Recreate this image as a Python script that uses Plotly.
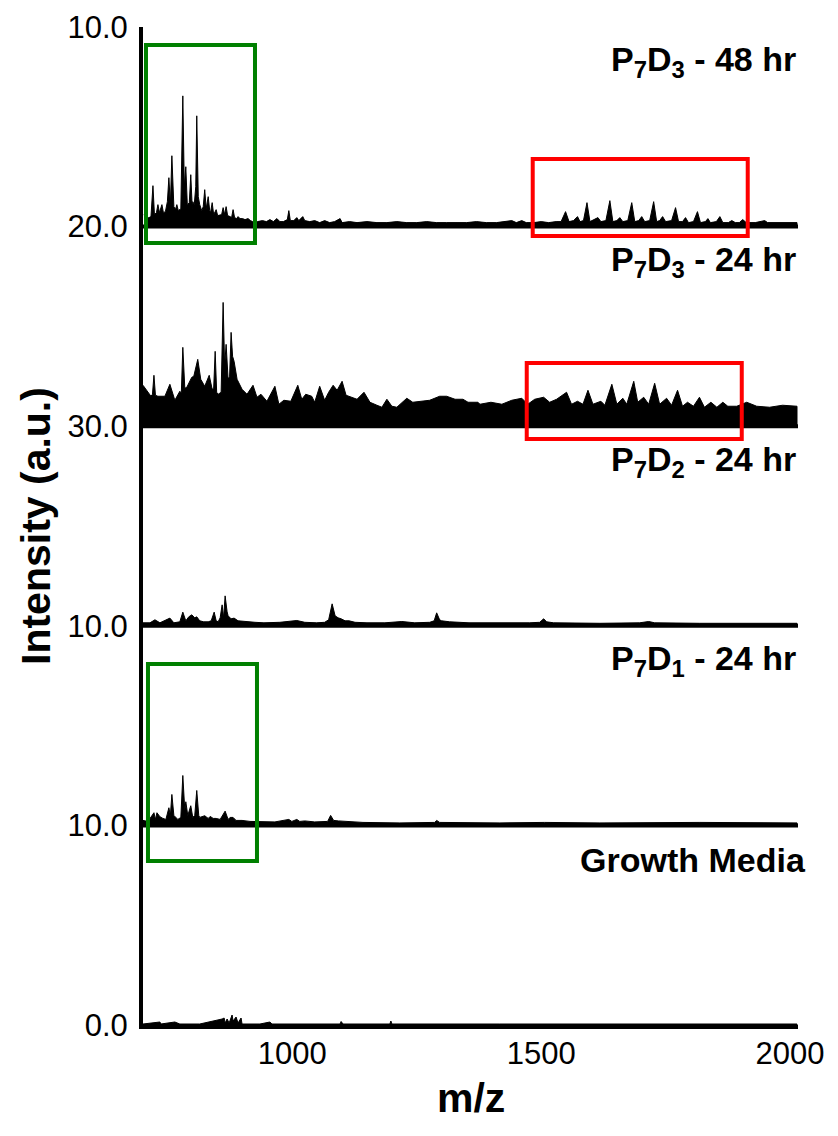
import plotly.graph_objects as go

# ---------------- data ----------------
# intensities in arbitrary units, 200 a.u. = full height of one stacked panel
p7d3_48_mz = [702, 706, 712, 716, 720, 723, 727, 730, 733, 738, 741, 745, 749, 752, 755, 758, 762, 766,
              768, 771, 776, 780, 783, 786, 789, 793, 796, 799, 800, 803, 806, 808, 811, 814, 818, 821,
              824, 827, 831, 834, 836, 839, 842, 847, 850, 855, 858, 861, 864, 867, 870, 875, 878, 881,
              884, 888, 891, 895, 900, 905, 911, 916, 920, 930, 940, 948, 955, 962, 969, 975, 982, 990,
              993, 996, 1003, 1009, 1013, 1021, 1025, 1035, 1045, 1055, 1065, 1075, 1085, 1096, 1100,
              1115, 1130, 1150, 1170, 1190, 1210, 1230, 1250, 1270, 1290, 1310, 1330, 1350, 1370, 1390,
              1410, 1425, 1441, 1450, 1461, 1470, 1485, 1500, 1515, 1530, 1540, 1549, 1556, 1565, 1573,
              1578, 1585, 1592, 1598, 1606, 1614, 1620, 1630, 1638, 1644, 1652, 1658, 1664, 1674, 1682,
              1688, 1696, 1702, 1708, 1718, 1726, 1732, 1738, 1744, 1750, 1762, 1770, 1776, 1784, 1790,
              1796, 1806, 1814, 1820, 1830, 1835, 1840, 1852, 1859, 1865, 1876, 1883, 1890, 1898, 1905,
              1912, 1930, 1949, 1955, 1975, 1995, 2014]
p7d3_48_int = [12, 8, 9, 10, 41, 12, 14, 22, 14, 22, 14, 15, 25, 49, 22, 71, 20, 18,
               22, 16, 18, 131, 40, 60, 22, 24, 52, 18, 25, 22, 40, 111, 30, 22, 16, 20,
               37, 18, 30, 16, 15, 24, 12, 17, 11, 12, 12, 19, 12, 20, 11, 10, 9, 17,
               9, 8, 10, 8, 8, 7, 8, 6, 5, 5, 6, 5, 7, 5, 8, 5, 5, 7,
               16, 6, 6, 9, 6, 10, 6, 5, 6, 4, 6, 4, 5, 8, 4,
               5, 4, 5, 4, 4, 5, 4, 4, 5, 4, 4, 4, 4, 5, 4,
               4, 5, 6, 4, 6, 4, 4, 5, 4, 5, 5, 15, 5, 6, 10,
               5, 6, 24, 5, 7, 9, 5, 6, 26, 5, 6, 9, 5, 6, 24,
               5, 6, 10, 5, 6, 25, 5, 6, 10, 5, 6, 19, 5, 5, 9,
               4, 5, 15, 4, 5, 8, 4, 5, 10, 4, 4, 6, 4, 4, 7,
               4, 4, 6, 4, 4, 4, 4]

p7d3_24_mz = [700, 710, 716, 719, 722, 725, 730, 744, 754, 764, 774, 777, 780, 784, 788, 798, 802, 810,
              816, 824, 833, 839, 842, 845, 848, 851, 857, 861, 864, 867, 871, 874, 877, 880, 883, 889,
              899, 909, 921, 929, 937, 949, 965, 973, 983, 997, 1011, 1019, 1027, 1039, 1045, 1055,
              1065, 1073, 1082, 1090, 1100, 1108, 1120, 1130, 1144, 1156, 1170, 1180, 1190, 1200, 1210,
              1230, 1242, 1262, 1276, 1296, 1310, 1327, 1343, 1353, 1373, 1377, 1399, 1421, 1441, 1461,
              1473, 1487, 1505, 1517, 1531, 1551, 1561, 1573, 1584, 1594, 1604, 1620, 1628, 1642, 1652,
              1664, 1672, 1686, 1694, 1706, 1716, 1728, 1738, 1752, 1762, 1774, 1784, 1794, 1806, 1818,
              1828, 1841, 1853, 1865, 1875, 1893, 1913, 1933, 1959, 1985, 2014]
p7d3_24_int = [41, 34, 30, 32, 51, 31, 30, 30, 42, 26, 35, 33, 79, 38, 39, 49, 50, 67,
               47, 40, 51, 37, 38, 75, 34, 32, 34, 124, 60, 82, 47, 50, 94, 70, 65, 47,
               37, 32, 41, 29, 32, 25, 40, 22, 26, 25, 41, 27, 32, 30, 24, 40,
               26, 34, 41, 36, 45, 31, 29, 27, 34, 24, 21, 19, 27, 20, 19,
               28, 24, 25, 26, 30, 30, 27, 27, 24, 24, 22, 24, 22, 26, 28,
               22, 27, 29, 24, 27, 34, 22, 25, 22, 36, 22, 25, 21, 42, 22,
               28, 22, 45, 24, 29, 22, 43, 22, 28, 21, 36, 20, 24, 20, 29,
               19, 24, 19, 24, 20, 20, 24, 20, 19, 21, 20]

p7d2_24_mz = [700, 714, 724, 734, 754, 762, 774, 780, 786, 792, 798, 804, 808, 814, 822, 831, 837, 843,
              847, 851, 855, 859, 862, 865, 869, 871, 877, 883, 891, 903, 925, 943, 975, 1009, 1025,
              1049, 1065, 1073, 1080, 1086, 1092, 1098, 1106, 1114, 1126, 1150, 1186, 1220, 1246, 1276,
              1285, 1290, 1296, 1300, 1316, 1355, 1397, 1435, 1477, 1497, 1505, 1511, 1525, 1618, 1698,
              1716, 1728, 1818, 1919, 2014]
p7d2_24_int = [3, 3, 6, 3, 7.7, 3, 4, 13.7, 5, 9, 11, 8, 9, 5, 4, 4, 5, 13.7,
               5, 4, 8, 21, 8, 30, 14, 10, 7, 7.7, 5, 4.3, 3.5, 3, 3.5, 5.3, 3.5,
               3, 3.5, 6, 22, 10, 8, 7, 5, 5, 3.5, 3, 3, 4.3, 3, 3.5,
               5, 13, 6, 5, 4, 3, 3, 2.5, 3, 3.5, 7, 4, 3, 2.5, 3,
               4.3, 3, 2.5, 2.5, 2.5]

p7d1_24_mz = [700, 710, 722, 725, 728, 734, 740, 746, 752, 755, 758, 762, 770, 776, 780, 784, 786, 790,
              796, 800, 804, 808, 812, 814, 824, 831, 835, 841, 847, 855, 865, 871, 875, 881, 887, 899,
              915, 939, 965, 993, 999, 1009, 1015, 1025, 1045, 1071, 1077, 1083, 1093, 1142, 1216, 1286,
              1290, 1296, 1417, 1507, 1618, 1819, 2014]
p7d1_24_int = [5, 4, 12.7, 6, 12.7, 8.7, 7, 6, 17.7, 10, 31, 10, 6, 8, 50, 15, 23.7, 10,
               19.7, 8, 10, 35, 10, 8, 9.7, 7, 9, 7, 7, 6, 14.3, 6, 8, 8, 5, 5,
               4, 3.5, 3.5, 6, 4, 6, 4, 4.5, 3.5, 4, 10, 5, 4.5, 3, 2.5, 3,
               5, 3, 2.5, 3, 2.5, 3, 2.5]

media_mz = [700, 734, 736, 764, 774, 814, 859, 863, 865, 869, 873, 879, 881, 887, 891, 897, 899, 935,
            955, 959, 1096, 1098, 1102, 1196, 1198, 1200, 1417, 2014]
media_int = [1, 3, 1, 3, 1, 1, 6, 7, 2, 6, 2, 10, 4, 8, 2, 7, 1, 1,
             3, 1, 1, 3.5, 1, 1, 4, 1, 1, 1]

spectra_mz = [p7d3_48_mz, p7d3_24_mz, p7d2_24_mz, p7d1_24_mz, media_mz]
spectra_int = [p7d3_48_int, p7d3_24_int, p7d2_24_int, p7d1_24_int, media_int]
panel_labels = ["P<sub>7</sub>D<sub>3</sub> - 48 hr", "P<sub>7</sub>D<sub>3</sub> - 24 hr",
                "P<sub>7</sub>D<sub>2</sub> - 24 hr", "P<sub>7</sub>D<sub>1</sub> - 24 hr", "Growth Media"]
ytick_text = ["0.0", "10.0", "10.0", "30.0", "20.0", "10.0"]
xtick_vals = [1000, 1500, 2000]
xtick_text = ["1000", "1500", "2000"]

# ---------------- figure ----------------
FONT = "Liberation Sans, Arial, sans-serif"
PANEL = 200.0            # a.u. per stacked panel
XMIN, XMAX = 700, 2016
n = len(spectra_mz)

fig = go.Figure()
for i, (mz, inten) in enumerate(zip(spectra_mz, spectra_int)):
    base = n - 1 - i
    xs = list(mz) + [mz[-1], mz[0]]
    ys = [base + v / PANEL for v in inten] + [base, base]
    fig.add_trace(go.Scatter(x=xs, y=ys, mode="lines", fill="toself",
                             fillcolor="black", line=dict(color="black", width=1),
                             hoverinfo="skip", showlegend=False))

shapes = []
# panel baselines
for base in range(1, n):
    shapes.append(dict(type="line", xref="x", yref="y", x0=XMIN, x1=XMAX, y0=base, y1=base,
                       line=dict(color="black", width=4)))
# highlight boxes
boxes = [
    (706, 925, 3.918, 4.91, "#008000"),
    (1483, 1915, 3.953, 4.339, "#ff0000"),
    (1471, 1903, 2.936, 3.317, "#ff0000"),
    (710, 929, 0.822, 1.809, "#008000"),
]
for x0, x1, y0, y1, c in boxes:
    shapes.append(dict(type="rect", xref="x", yref="y", x0=x0, x1=x1, y0=y0, y1=y1,
                       line=dict(color=c, width=4), fillcolor="rgba(0,0,0,0)"))

annotations = []
for i, lab in enumerate(panel_labels):
    top = n - i
    annotations.append(dict(text="<b>%s</b>" % lab, xref="x", yref="y", x=XMAX,
                            y=top - 35 / PANEL, xanchor="right", yanchor="middle",
                            xshift=10 if i == n - 1 else 0,
                            showarrow=False, font=dict(family=FONT, size=34, color="black")))
annotations.append(dict(text="<b>Intensity (a.u.)</b>", xref="paper", yref="paper", x=0, y=0.5,
                        xshift=-107, xanchor="center", yanchor="middle", textangle=-90,
                        showarrow=False, font=dict(family=FONT, size=41, color="black")))
annotations.append(dict(text="<b>m/z</b>", xref="paper", yref="paper", x=0.5, y=0,
                        yshift=-73, xanchor="center", yanchor="middle",
                        showarrow=False, font=dict(family=FONT, size=41, color="black")))

fig.update_layout(
    width=822, height=1120,
    margin=dict(l=135, r=32, t=19, b=103, autoexpand=False),
    paper_bgcolor="white", plot_bgcolor="white",
    shapes=shapes, annotations=annotations,
    xaxis=dict(range=[XMIN, XMAX], tickvals=xtick_vals, ticktext=xtick_text,
               showgrid=False, zeroline=False, showline=True, linecolor="black", linewidth=4,
               ticks="", ticklabelstandoff=-2, automargin=False, ticklabeloverflow="allow",
               tickfont=dict(family=FONT, size=31, color="black")),
    yaxis=dict(range=[0, n], tickvals=list(range(n + 1)), ticktext=ytick_text,
               showgrid=False, zeroline=False, showline=True, linecolor="black", linewidth=4,
               ticks="", ticklabelstandoff=5, automargin=False, ticklabeloverflow="allow",
               tickfont=dict(family=FONT, size=31, color="black")),
    font=dict(family=FONT),
)

fig.write_html("out.html")
